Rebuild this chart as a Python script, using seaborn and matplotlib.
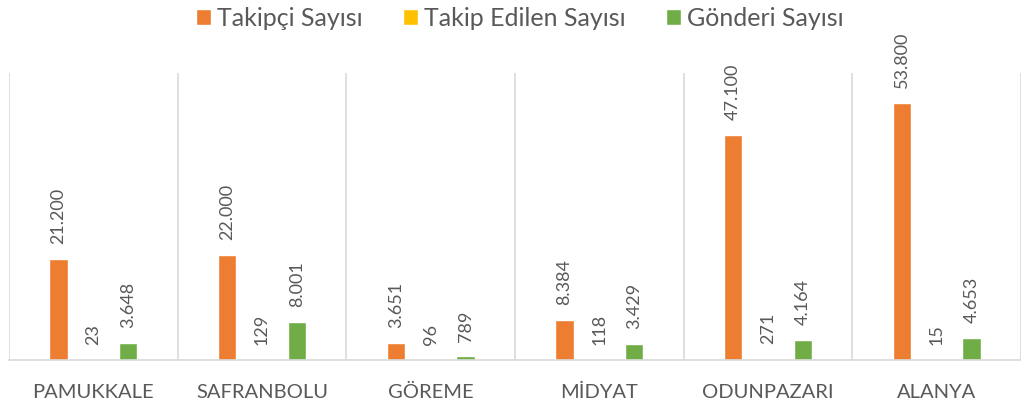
import matplotlib
matplotlib.use("Agg")
import matplotlib.pyplot as plt
import seaborn as sns
import pandas as pd

categories = ["PAMUKKALE", "SAFRANBOLU", "GÖREME", "MİDYAT", "ODUNPAZARI", "ALANYA"]
series_names = ["Takipçi Sayısı", "Takip Edilen Sayısı", "Gönderi Sayısı"]
takipci = [21200, 22000, 3651, 8384, 47100, 53800]
takip_edilen = [23, 129, 96, 118, 271, 15]
gonderi = [3648, 8001, 789, 3429, 4164, 4653]
colors = ["#ED7D31", "#FFC000", "#70AD47"]

rows = []
for s, vals in zip(series_names, [takipci, takip_edilen, gonderi]):
    for c, v in zip(categories, vals):
        rows.append({"cat": c, "series": s, "val": v})
df = pd.DataFrame(rows)

sns.set_theme(style="white")
plt.rcParams["font.family"] = ["Lato", "DejaVu Sans"]
text_color = "#595959"
grid_color = "#D9D9D9"

fig = plt.figure(figsize=(10.21, 4.05), dpi=100)
ax = fig.add_axes([9 / 1021, 1 - 360 / 405, 1 - 9 / 1021, (360 - 73) / 405])

sns.barplot(data=df, x="cat", y="val", hue="series", palette=colors,
            width=0.62, gap=0.48, saturation=1, ax=ax, legend=True,
            order=categories, hue_order=series_names, errorbar=None)

def fmt(v):
    return f"{int(round(v)):,}".replace(",", ".")

for cont in ax.containers:
    ax.bar_label(cont, labels=[fmt(b.get_height()) for b in cont], rotation=90,
                 padding=10.5, color=text_color, fontsize=13)

ax.set_ylim(0, 60000)
ax.set_xlim(-0.5, 5.5)
ax.set_yticks([])
ax.set_xlabel("")
ax.set_ylabel("")
ax.set_xticks(range(len(categories)))
ax.set_xticklabels(categories, fontsize=14.5, color=text_color)
ax.tick_params(axis="x", length=0, pad=17)
ax.set_xticks([i - 0.5 for i in range(len(categories) + 1)], minor=True)
ax.tick_params(axis="x", which="minor", length=0)
ax.grid(axis="x", which="minor", color=grid_color, linewidth=1.2)
ax.grid(axis="x", which="major", visible=False)
ax.set_axisbelow(True)
for sp in ["top", "right", "left"]:
    ax.spines[sp].set_visible(False)
ax.spines["bottom"].set_color(grid_color)
ax.spines["bottom"].set_linewidth(1.2)

ax.legend(loc="center", bbox_to_anchor=(520 / 1021, 1 - 18 / 405),
          bbox_transform=fig.transFigure, ncol=3, frameon=False,
          fontsize=18, handlelength=0.6, handleheight=0.6,
          handletextpad=0.25, columnspacing=1.6, labelcolor=text_color,
          borderaxespad=0, borderpad=0)

fig.savefig("out.png", dpi=100)
